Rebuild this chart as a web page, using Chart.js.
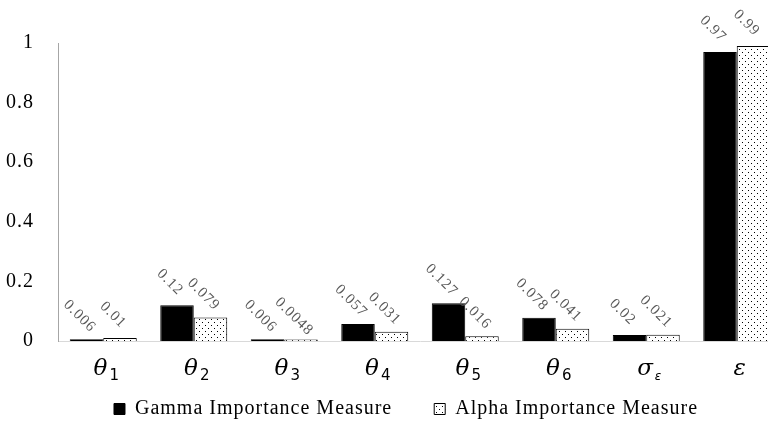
<!DOCTYPE html>
<html>
<head>
<meta charset="utf-8">
<script src="https://cdn.jsdelivr.net/npm/chart.js@4.4.0/dist/chart.umd.min.js"></script>
<style>
  html, body { margin: 0; padding: 0; background: #fff; overflow: hidden; }
  #wrap { width: 768px; height: 425px; overflow: hidden; }
</style>
</head>
<body>
<div id="wrap"><canvas id="chart" width="966" height="425"></canvas></div>
<script>
// category symbols: main letter + subscript
const symbols = ["θ", "θ", "θ", "θ", "θ", "θ", "σ", "ε"];
const subscripts = ["1", "2", "3", "4", "5", "6", "ε", ""];
const categories = symbols.map((s, i) => s + subscripts[i]);

const gammaValues = [0.006, 0.12, 0.006, 0.057, 0.127, 0.078, 0.02, 0.97];
const alphaValues = [0.01, 0.079, 0.0048, 0.031, 0.016, 0.041, 0.021, 0.99];
const seriesNames = ["Gamma Importance Measure", "Alpha Importance Measure"];

// dotted fill for the alpha bars
function dotPattern() {
  const c = document.createElement("canvas");
  c.width = 6;
  c.height = 6;
  const g = c.getContext("2d");
  g.fillStyle = "#fff";
  g.fillRect(0, 0, 6, 6);
  g.fillStyle = "#000";
  g.fillRect(1, 1, 1, 1);
  g.fillRect(4, 4, 1, 1);
  return g.createPattern(c, "repeat");
}

// the source text is set a bit wide
const wideText = {
  id: "wideText",
  beforeLayout(chart) { chart.ctx.letterSpacing = "1px"; },
  beforeDraw(chart) { chart.ctx.letterSpacing = "1px"; },
  afterLayout(chart) {
    // nudge the legend to where it sits in the original
    const lg = chart.legend;
    lg.left += 15; lg.right += 15;
    lg.top += 4; lg.bottom += 4;
  }
};

// rotated value labels above bars
const valueLabels = {
  id: "valueLabels",
  afterDatasetsDraw(chart) {
    const ctx = chart.ctx;
    ctx.save();
    ctx.letterSpacing = "1px";
    ctx.font = "15px 'Liberation Serif'";
    ctx.fillStyle = "#595959";
    ctx.textAlign = "center";
    ctx.textBaseline = "middle";
    chart.data.datasets.forEach((ds, di) => {
      chart.getDatasetMeta(di).data.forEach((bar, i) => {
        ctx.save();
        ctx.translate(bar.x - 7, bar.y - 23);
        ctx.rotate(Math.PI / 4);
        ctx.fillText(String(ds.data[i]), 0, 0);
        ctx.restore();
      });
    });
    ctx.restore();
  }
};

// x labels with subscripts
const symbolLabels = {
  id: "symbolLabels",
  afterDraw(chart) {
    const ctx = chart.ctx;
    const x = chart.scales.x;
    const base = chart.chartArea.bottom + 34;
    ctx.save();
    ctx.letterSpacing = "0px";
    ctx.fillStyle = "#000";
    ctx.textBaseline = "alphabetic";
    ctx.textAlign = "left";
    symbols.forEach((s, i) => {
      const cx = x.getPixelForValue(i) + 3;
      const subFont = (subscripts[i] === "ε" ? "italic 12px" : "15px") + " 'DejaVu Sans'";
      ctx.font = "italic 23px 'DejaVu Serif'";
      const w1 = ctx.measureText(s).width;
      ctx.font = subFont;
      const w2 = subscripts[i] ? ctx.measureText(subscripts[i]).width + 2 : 0;
      const left = cx - (w1 + w2) / 2;
      ctx.font = "italic 23px 'DejaVu Serif'";
      ctx.fillText(s, left, base);
      if (subscripts[i]) {
        ctx.font = subFont;
        ctx.fillText(subscripts[i], left + w1 + 2, base + 5);
      }
    });
    ctx.restore();
  }
};

new Chart(document.getElementById("chart"), {
  type: "bar",
  data: {
    labels: categories,
    datasets: [
      {
        label: seriesNames[0],
        data: gammaValues,
        backgroundColor: "#000",
        borderColor: "#000",
        borderWidth: 1
      },
      {
        label: seriesNames[1],
        data: alphaValues,
        backgroundColor: dotPattern(),
        borderColor: "#000",
        borderWidth: 1
      }
    ]
  },
  plugins: [wideText, valueLabels, symbolLabels],
  options: {
    responsive: false,
    animation: false,
    layout: { padding: { top: 43, right: 184, left: 0, bottom: 0 } },
    datasets: { bar: { barPercentage: 1, categoryPercentage: 0.74 } },
    plugins: {
      tooltip: { enabled: false },
      legend: {
        position: "bottom",
        labels: {
          color: "#000",
          font: { family: "'Liberation Serif'", size: 20 },
          boxWidth: 11,
          boxHeight: 11,
          padding: 42
        }
      }
    },
    scales: {
      x: {
        grid: { display: false },
        border: { color: "#d9d9d9" },
        ticks: { display: false },
        afterFit(scale) { scale.height = 12; }
      },
      y: {
        min: 0,
        max: 1,
        ticks: {
          stepSize: 0.2,
          color: "#000",
          padding: 16,
          font: { family: "'Liberation Serif'", size: 20 },
          callback: (v) => String(Math.round(v * 10) / 10)
        },
        grid: { display: false },
        border: { color: "#a6a6a6" },
        afterFit(scale) { scale.width = 58; }
      }
    }
  }
});
</script>
</body>
</html>
